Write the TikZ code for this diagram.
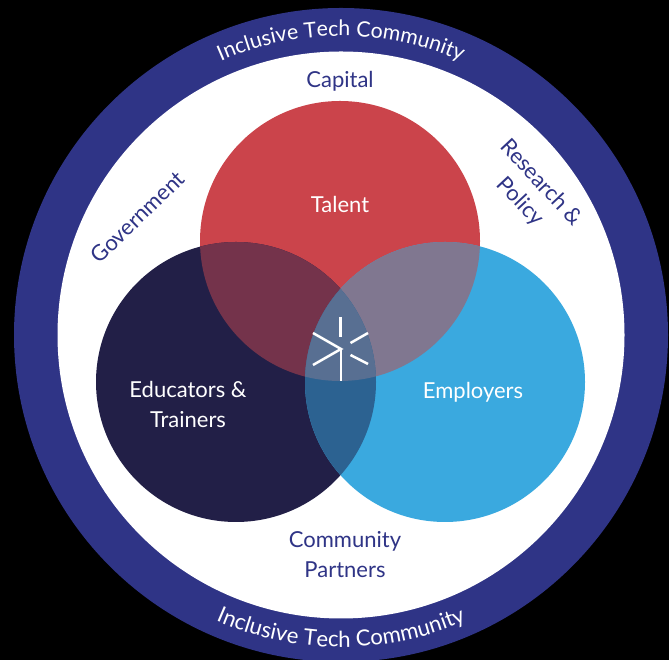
\documentclass[tikz,border=0pt]{standalone}
\usepackage{fontspec}
\setmainfont{Lato}
\usetikzlibrary{decorations.text}
\definecolor{ringblue}{HTML}{2F3486}
\definecolor{talentred}{HTML}{CB444B}
\definecolor{edunavy}{HTML}{221F47}
\definecolor{empblue}{HTML}{3AA9DF}
\definecolor{mixTE}{HTML}{74334B}
\definecolor{mixTB}{HTML}{807790}
\definecolor{mixEB}{HTML}{2C6291}
\definecolor{mixAll}{HTML}{586F92}
\tikzset{
  x=1pt,y=1pt,
  circlabel/.style={text=white,font=\fontsize{22}{30}\selectfont,align=center,inner sep=0pt},
  outerlabel/.style={text=ringblue,font=\fontsize{22}{30}\selectfont,align=center,inner sep=0pt},
  ringtext/.style={decorate,decoration={text along path,text align=center,
    text={|\fontsize{#1}{24}\selectfont\color{white}|Inclusive Tech Community}}},
  iconline/.style={white,line width=2.5pt}
}
\begin{document}
\begin{tikzpicture}
\useasboundingbox[fill=black] (0,0) rectangle (669,660);
\coordinate (C) at (341,325);
\fill[ringblue] (C) circle (327);
\fill[white] (C) circle (283.5);
\coordinate (T) at (340,419);
\coordinate (E) at (236,278);
\coordinate (B) at (445,278);
\fill[talentred] (T) circle (140);
\fill[edunavy] (E) circle (140);
\fill[empblue] (B) circle (140);
\begin{scope}\clip (T) circle (140); \fill[mixTE] (E) circle (140); \fill[mixTB] (B) circle (140);\end{scope}
\begin{scope}\clip (E) circle (140); \fill[mixEB] (B) circle (140);\end{scope}
\begin{scope}\clip (T) circle (140); \clip (E) circle (140); \fill[mixAll] (B) circle (140);\end{scope}
% icon
\coordinate (hub) at (341,311);
\coordinate (i1) at (340.7,343);
\coordinate (i2) at (340.7,323);
\coordinate (i3) at (350.5,317);
\coordinate (i4) at (368,327);
\coordinate (i5) at (350.5,305);
\coordinate (i6) at (368,296);
\coordinate (i7) at (313,327);
\coordinate (i8) at (313,295);
\coordinate (i9) at (341,279);
\draw[iconline] (i1) -- (i2);
\draw[iconline] (i3) -- (i4);
\draw[iconline] (i5) -- (i6);
\draw[iconline] (i7) -- (hub) -- (i8);
\draw[iconline] (hub) -- (i9);
% labels
\node[circlabel] (talent) at (340,456) {Talent};
\node[circlabel] (edu) at (188,256) {Educators \&\\Trainers};
\node[circlabel] (emp) at (473,268) {Employers};
\node[outerlabel] (capital) at (340,579) {Capital};
\node[outerlabel,rotate=44] (gov) at (137.5,443) {Government};
\node[outerlabel,rotate=-47] (res) at (542,478) {Research \&};
\node[outerlabel,rotate=-47] (pol) at (520,458) {Policy};
\node[outerlabel] (comm) at (345,105) {Community\\Partners};
% ring text
\path[ringtext=21.3] (C) ++(157:299) arc (157:23:299);
\path[ringtext=22.2] (C) ++(-156.8:312) arc (-156.8:-23.2:312);
\end{tikzpicture}
\end{document}
